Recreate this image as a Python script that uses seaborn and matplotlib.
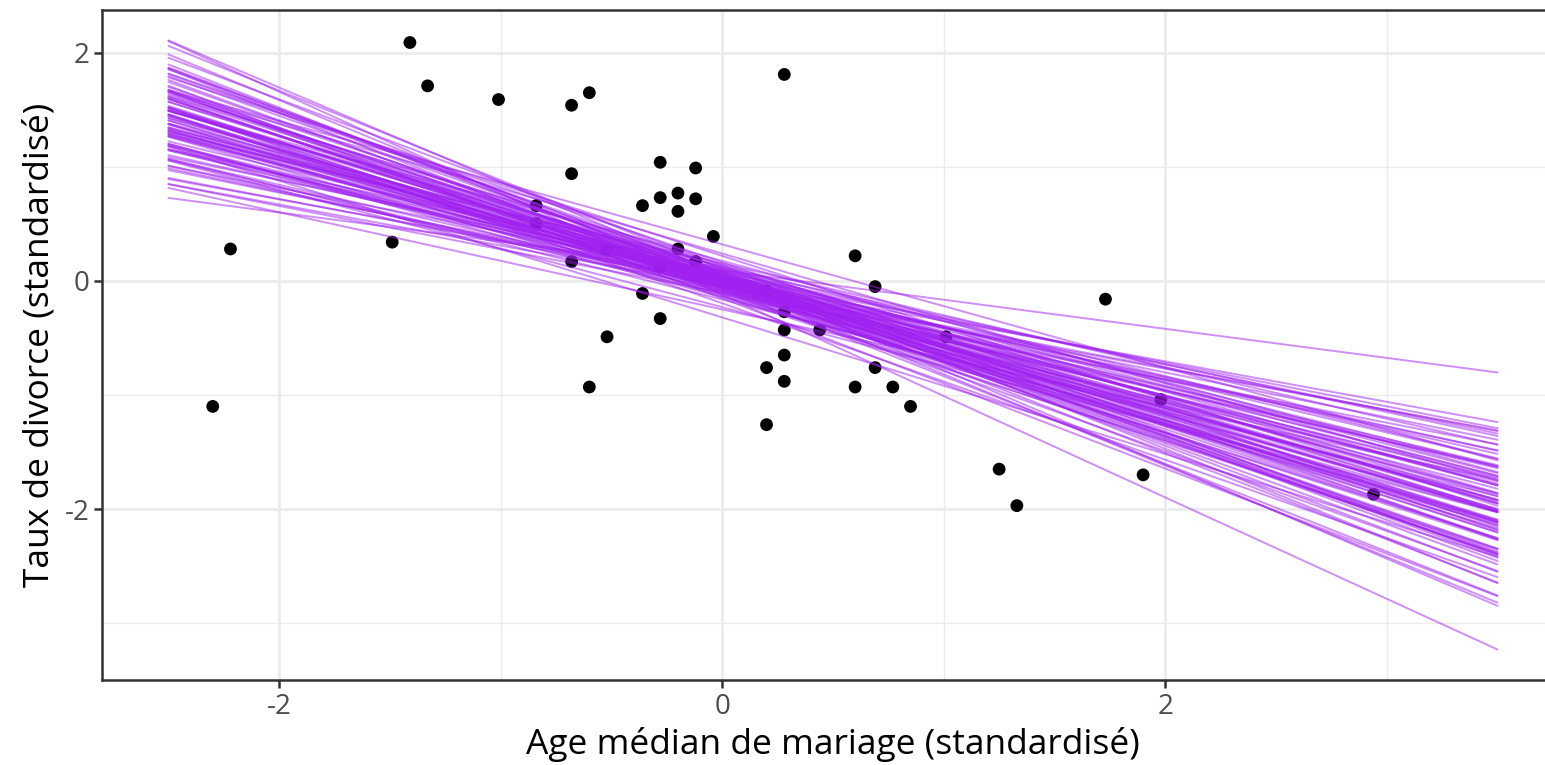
import numpy as np
import pandas as pd
import matplotlib
matplotlib.use("Agg")
import matplotlib.pyplot as plt
import seaborn as sns
from matplotlib.ticker import MultipleLocator

# ---- data: observed standardized values (50 states) ----
age_std = [-1.41, -1.33, -1.01, -0.68, -0.60, 0.28, -2.22, -2.30, -1.49, -0.84,
           -0.68, -0.68, -0.36, -0.36, -0.52, -0.60, -0.28, -0.28, -0.28, -0.28,
           -0.20, -0.20, -0.20, -0.12, -0.12, -0.12, -0.04, 0.20, 0.20, 0.20,
           0.28, 0.28, 0.28, 0.28, 0.44, 0.60, 0.60, 0.69, 0.69, 0.77,
           0.85, 1.01, 1.25, 1.33, 1.73, 1.90, 1.98, 2.94, -0.84, -0.52]
divorce_std = [2.09, 1.71, 1.59, 1.54, 1.65, 1.81, 0.28, -1.10, 0.34, 0.66,
               0.94, 0.17, 0.66, -0.11, -0.49, -0.93, 1.04, 0.73, -0.33, 0.12,
               0.77, 0.61, 0.28, 0.99, 0.72, 0.17, 0.39, -0.09, -0.76, -1.26,
               -0.27, -0.43, -0.65, -0.88, -0.43, 0.22, -0.93, -0.05, -0.76, -0.93,
               -1.10, -0.49, -1.65, -1.97, -0.16, -1.70, -1.04, -1.87, 0.50, 0.27]

# ---- posterior draws: intercepts and slopes (100 lines) ----
slopes = [-0.889, -0.826, -0.801, -0.785, -0.769, -0.757, -0.746, -0.736, -0.728, -0.721,
          -0.714, -0.708, -0.701, -0.695, -0.690, -0.686, -0.680, -0.676, -0.671, -0.667,
          -0.662, -0.658, -0.654, -0.650, -0.647, -0.643, -0.639, -0.636, -0.633, -0.629,
          -0.626, -0.623, -0.620, -0.617, -0.614, -0.611, -0.607, -0.605, -0.602, -0.599,
          -0.596, -0.593, -0.591, -0.588, -0.585, -0.582, -0.580, -0.577, -0.574, -0.571,
          -0.569, -0.566, -0.563, -0.560, -0.558, -0.555, -0.552, -0.549, -0.547, -0.544,
          -0.541, -0.538, -0.535, -0.533, -0.529, -0.526, -0.523, -0.520, -0.517, -0.514,
          -0.511, -0.507, -0.504, -0.501, -0.497, -0.493, -0.490, -0.486, -0.482, -0.478,
          -0.473, -0.469, -0.464, -0.460, -0.454, -0.450, -0.445, -0.439, -0.432, -0.426,
          -0.419, -0.412, -0.404, -0.394, -0.383, -0.380, -0.370, -0.360, -0.355, -0.255]
intercepts = [-0.120, 0.043, -0.017, 0.098, -0.066, 0.005, -0.153, 0.026, 0.136, 0.068,
              0.072, -0.008, -0.090, 0.057, 0.019, -0.196, 0.113, -0.031, 0.001, -0.059,
              0.163, -0.046, 0.033, -0.107, 0.083, -0.013, 0.051, -0.130, 0.010, -0.072,
              0.219, -0.023, 0.066, -0.095, 0.036, -0.004, 0.118, -0.051, 0.014, -0.320,
              0.079, -0.036, 0.144, -0.063, 0.029, -0.083, 0.004, -0.118, 0.059, -0.019,
              0.240, -0.041, 0.022, -0.136, 0.095, -0.010, 0.046, -0.076, 0.123, -0.029,
              0.320, -0.144, 0.008, -0.054, 0.176, -0.026, 0.039, -0.098, 0.017, -0.230,
              0.103, -0.001, 0.054, -0.068, 0.031, -0.163, 0.086, -0.033, 0.130, -0.049,
              0.013, -0.113, 0.063, -0.005, 0.153, -0.057, 0.041, -0.086, 0.023, -0.250,
              0.107, -0.043, 0.076, -0.014, 0.049, -0.103, -0.022, -0.050, 0.005, 0.090]
x_span = [-2.5, 3.5]

x_ticks = [-2, 0, 2]
y_ticks = [-2, 0, 2]
x_label = "Age médian de mariage (standardisé)"
y_label = "Taux de divorce (standardisé)"

# ---- build long frames ----
pts = pd.DataFrame({"A": age_std, "D": divorce_std})
rows = []
for i, (a, b) in enumerate(zip(intercepts, slopes)):
    for x in x_span:
        rows.append({"draw": i, "x": x, "y": a + b * x})
lines = pd.DataFrame(rows)

# ---- style (ggplot theme_bw look) ----
sns.set_theme(style="white")
plt.rcParams["font.family"] = ["Open Sans", "DejaVu Sans"]
plt.rcParams["axes.unicode_minus"] = False

fig = plt.figure(figsize=(15.45, 7.65), dpi=100)
ax = fig.add_axes([102 / 1545, 1 - 680 / 765, (1564 - 102) / 1545, (680 - 10) / 765])

sns.scatterplot(data=pts, x="A", y="D", ax=ax, color="black", s=85,
                edgecolor="none", zorder=2)
sns.lineplot(data=lines, x="x", y="y", units="draw", estimator=None, ax=ax,
             color="#A020F0", alpha=0.5, linewidth=1.4, zorder=3, legend=False)

# limits with ggplot-like 5% expansion
xmin, xmax = min(x_span), max(x_span)
ymin = min(lines["y"].min(), pts["D"].min())
ymax = max(lines["y"].max(), pts["D"].max())
ax.set_xlim(xmin - 0.05 * (xmax - xmin), xmax + 0.05 * (xmax - xmin))
ax.set_ylim(ymin - 0.05 * (ymax - ymin), ymax + 0.05 * (ymax - ymin))

ax.set_xticks(x_ticks)
ax.set_yticks(y_ticks)
ax.set_xticklabels([str(t) for t in x_ticks])
ax.set_yticklabels([str(t) for t in y_ticks])
ax.xaxis.set_minor_locator(MultipleLocator(1))
ax.yaxis.set_minor_locator(MultipleLocator(1))
ax.grid(which="major", color="#EBEBEB", linewidth=2.0, zorder=0)
ax.grid(which="minor", color="#EBEBEB", linewidth=1.0, zorder=0)
ax.set_axisbelow(True)

for s in ax.spines.values():
    s.set_color("#333333")
    s.set_linewidth(1.8)
ax.tick_params(which="major", length=6, width=1.8, color="#333333",
               labelcolor="#4D4D4D", labelsize=20, pad=3,
               bottom=True, left=True)
ax.tick_params(which="minor", length=0)

ax.set_xlabel(x_label, fontsize=25.5, color="black", labelpad=5)
ax.set_ylabel(y_label, fontsize=25.5, color="black", labelpad=6)

fig.savefig("out.png", dpi=100, facecolor="white")
